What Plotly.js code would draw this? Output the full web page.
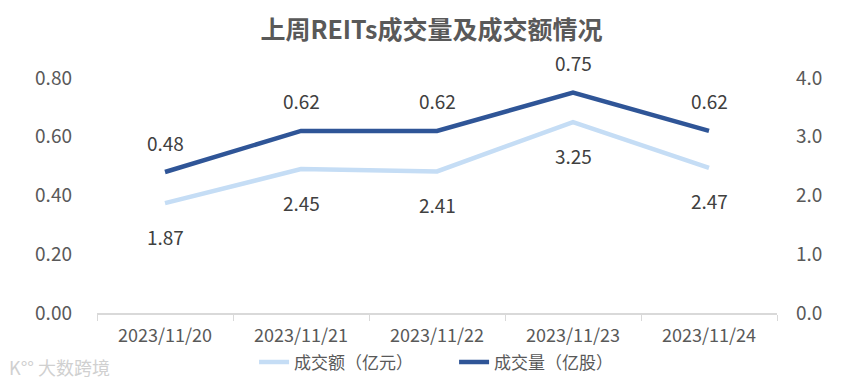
<!DOCTYPE html>
<html>
<head>
<meta charset="utf-8">
<script src="https://cdn.plot.ly/plotly-3.0.1.min.js"></script>
<style>html,body{margin:0;padding:0;background:#fff;}#chart{width:846px;height:384px;}</style>
</head>
<body>
<div id="chart"></div>
<script>
const categories = ['2023/11/20', '2023/11/21', '2023/11/22', '2023/11/23', '2023/11/24'];
const amountValues = [1.87, 2.45, 2.41, 3.25, 2.47];   // 成交额（亿元）, right axis
const volumeValues = [0.48, 0.62, 0.62, 0.75, 0.62];   // 成交量（亿股）, left axis
const leftTicks = [0, 0.2, 0.4, 0.6, 0.8];
const rightTicks = [0, 1, 2, 3, 4];

const FONT = '"Noto Sans CJK SC", "Noto Sans", sans-serif';
const DARK = '#2F5597';
const LIGHT = '#C5DDF5';

const traces = [
  {
    x: categories, y: amountValues, name: '成交额（亿元）', yaxis: 'y2',
    type: 'scatter', mode: 'lines', line: {color: LIGHT, width: 4.5}, hoverinfo: 'skip'
  },
  {
    x: categories, y: volumeValues, name: '成交量（亿股）', yaxis: 'y',
    type: 'scatter', mode: 'lines', line: {color: DARK, width: 4.5}, hoverinfo: 'skip'
  }
];

const annotations = [];
categories.forEach((c, i) => {
  annotations.push({x: c, y: volumeValues[i], xref: 'x', yref: 'y', text: volumeValues[i].toFixed(2),
    showarrow: false, yshift: 30, font: {family: FONT, size: 19, color: '#404040'}});
  annotations.push({x: c, y: amountValues[i], xref: 'x', yref: 'y2', text: amountValues[i].toFixed(2),
    showarrow: false, yshift: -33, font: {family: FONT, size: 19, color: '#404040'}});
});
annotations.push({xref: 'paper', yref: 'paper', x: -0.133, y: -0.23, xanchor: 'left', yanchor: 'middle',
  text: 'K°° 大数跨境', showarrow: false, font: {family: FONT, size: 18, color: '#D0D0D0'}});

const layout = {
  width: 846, height: 384,
  margin: {l: 97, r: 69, t: 78, b: 71},
  paper_bgcolor: '#fff', plot_bgcolor: '#fff',
  font: {family: FONT, color: '#595959'},
  title: {text: '<b>上周REITs成交量及成交额情况</b>', x: 0.51, xanchor: 'center', y: 0.92, yanchor: 'middle',
    font: {family: FONT, size: 25, color: '#595959'}},
  showlegend: true,
  legend: {orientation: 'h', x: 0.231, xanchor: 'left', yref: 'container', y: 0.056, yanchor: 'middle',
    bgcolor: 'rgba(0,0,0,0)',
    font: {family: FONT, size: 17, color: '#595959'}, traceorder: 'normal', entrywidth: 155},
  xaxis: {
    type: 'category', range: [-0.5, 4.5], tickson: 'boundaries', ticks: 'outside', ticklen: 6, tickcolor: '#D9D9D9',
    showline: true, linecolor: '#D9D9D9', linewidth: 1.5, showgrid: false, zeroline: false,
    ticklabelstandoff: 6, automargin: false,
    tickfont: {family: FONT, size: 18, color: '#595959'}, fixedrange: true
  },
  yaxis: {
    range: [0, 0.8], tickvals: leftTicks, tickformat: '.2f', showgrid: false, zeroline: false,
    showline: false, ticks: '', ticklabelstandoff: 24, automargin: false,
    tickfont: {family: FONT, size: 19, color: '#595959'}, fixedrange: true
  },
  yaxis2: {
    range: [0, 4], tickvals: rightTicks, tickformat: '.1f', overlaying: 'y', side: 'right',
    showgrid: false, zeroline: false, showline: false, ticks: '', ticklabelstandoff: 18, automargin: false,
    tickfont: {family: FONT, size: 19, color: '#595959'}, fixedrange: true
  },
  annotations: annotations
};

Plotly.newPlot('chart', traces, layout, {displayModeBar: false, staticPlot: true});
</script>
</body>
</html>
